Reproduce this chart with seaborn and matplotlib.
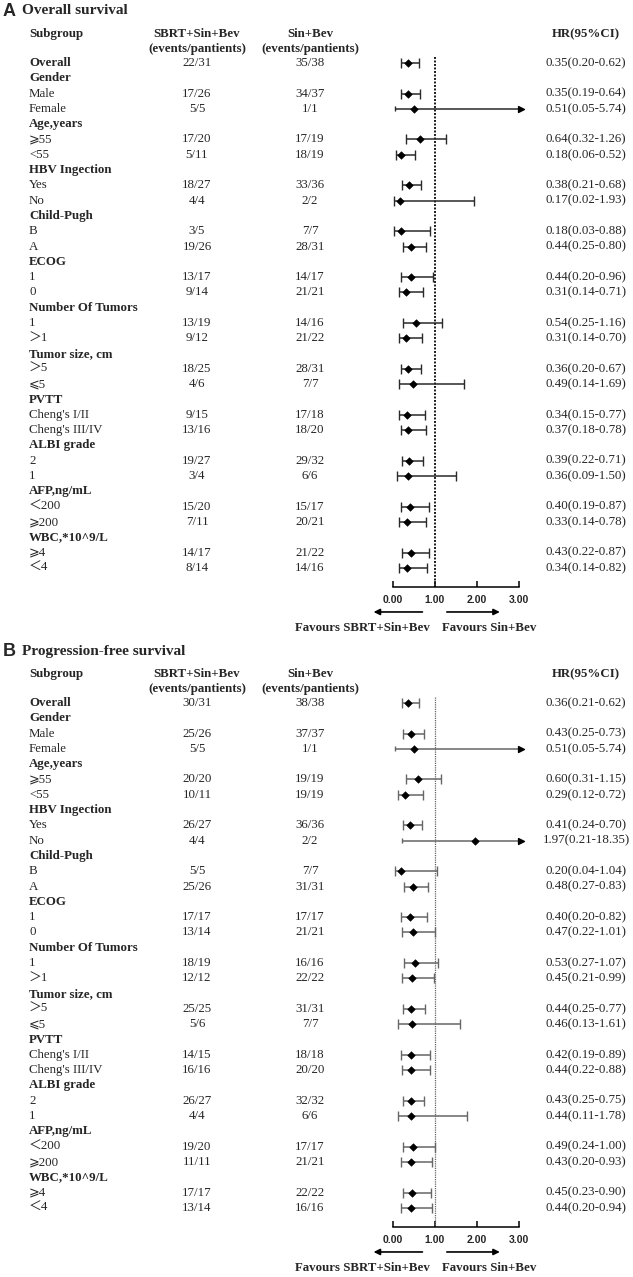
import numpy as np
import pandas as pd
import matplotlib
matplotlib.use("Agg")
import matplotlib.pyplot as plt
import matplotlib.transforms as mtransforms
import seaborn as sns

sns.set_theme(style="white")
SERIF = ["Liberation Serif", "DejaVu Sans", "Noto Sans CJK SC"]
plt.rcParams["font.family"] = SERIF

# ---- rows of the table -------------------------------------------------
row_labels = ["Overall", "Gender", "Male", "Female", "Age,years", "⩾55", "<55",
              "HBV Ingection", "Yes", "No", "Child-Pugh", "B", "A", "ECOG", "1", "0",
              "Number Of Tumors", "1", "＞1", "Tumor size, cm", "＞5", "⩽5", "PVTT",
              "Cheng's I/II", "Cheng's III/IV", "ALBI grade", "2", "1", "AFP,ng/mL",
              "＜200", "⩾200", "WBC,*10^9/L", "⩾4", "＜4"]
bold_rows = [0, 1, 4, 7, 10, 13, 16, 19, 22, 25, 28, 31]

# ---- A: overall survival ----------------------------------------------
os_sbrt = ["22/31", "", "17/26", "5/5", "", "17/20", "5/11", "", "18/27", "4/4", "",
           "3/5", "19/26", "", "13/17", "9/14", "", "13/19", "9/12", "", "18/25", "4/6", "",
           "9/15", "13/16", "", "19/27", "3/4", "", "15/20", "7/11", "", "14/17", "8/14"]
os_sinbev = ["35/38", "", "34/37", "1/1", "", "17/19", "18/19", "", "33/36", "2/2", "",
             "7/7", "28/31", "", "14/17", "21/21", "", "14/16", "21/22", "", "28/31", "7/7", "",
             "17/18", "18/20", "", "29/32", "6/6", "", "15/17", "20/21", "", "21/22", "14/16"]
os_hr = [0.35, None, 0.35, 0.51, None, 0.64, 0.18, None, 0.38, 0.17, None, 0.18, 0.44,
         None, 0.44, 0.31, None, 0.54, 0.31, None, 0.36, 0.49, None, 0.34, 0.37, None,
         0.39, 0.36, None, 0.40, 0.33, None, 0.43, 0.34]
os_lo = [0.20, None, 0.19, 0.05, None, 0.32, 0.06, None, 0.21, 0.02, None, 0.03, 0.25,
         None, 0.20, 0.14, None, 0.25, 0.14, None, 0.20, 0.14, None, 0.15, 0.18, None,
         0.22, 0.09, None, 0.19, 0.14, None, 0.22, 0.14]
os_hi = [0.62, None, 0.64, 5.74, None, 1.26, 0.52, None, 0.68, 1.93, None, 0.88, 0.80,
         None, 0.96, 0.71, None, 1.16, 0.70, None, 0.67, 1.69, None, 0.77, 0.78, None,
         0.71, 1.50, None, 0.87, 0.78, None, 0.87, 0.82]

# ---- B: progression-free survival ------------------------------------
pfs_sbrt = ["30/31", "", "25/26", "5/5", "", "20/20", "10/11", "", "26/27", "4/4", "",
            "5/5", "25/26", "", "17/17", "13/14", "", "18/19", "12/12", "", "25/25", "5/6", "",
            "14/15", "16/16", "", "26/27", "4/4", "", "19/20", "11/11", "", "17/17", "13/14"]
pfs_sinbev = ["38/38", "", "37/37", "1/1", "", "19/19", "19/19", "", "36/36", "2/2", "",
              "7/7", "31/31", "", "17/17", "21/21", "", "16/16", "22/22", "", "31/31", "7/7", "",
              "18/18", "20/20", "", "32/32", "6/6", "", "17/17", "21/21", "", "22/22", "16/16"]
pfs_hr = [0.36, None, 0.43, 0.51, None, 0.60, 0.29, None, 0.41, 1.97, None, 0.20, 0.48,
          None, 0.40, 0.47, None, 0.53, 0.45, None, 0.44, 0.46, None, 0.42, 0.44, None,
          0.43, 0.44, None, 0.49, 0.43, None, 0.45, 0.44]
pfs_lo = [0.21, None, 0.25, 0.05, None, 0.31, 0.12, None, 0.24, 0.21, None, 0.04, 0.27,
          None, 0.20, 0.22, None, 0.27, 0.21, None, 0.25, 0.13, None, 0.19, 0.22, None,
          0.25, 0.11, None, 0.24, 0.20, None, 0.23, 0.20]
pfs_hi = [0.62, None, 0.73, 5.74, None, 1.15, 0.72, None, 0.70, 18.35, None, 1.04, 0.83,
          None, 0.82, 1.01, None, 1.07, 0.99, None, 0.77, 1.61, None, 0.89, 0.88, None,
          0.75, 1.78, None, 1.00, 0.93, None, 0.90, 0.94]

ticks = [0, 1, 2, 3]
XMAX = 3.0

W, H = 633, 1277
fig = plt.figure(figsize=(W / 100, H / 100), dpi=100)

ROW0, STEP = 63, 15.3  # pixel y of first row and row pitch


def draw_panel(letter, title, sbrt, sinbev, hr, lo, hi, off, line_color, dot_color, dot_lw):
    top_px = off + ROW0 - 2 * STEP
    bot_px = off + 587
    ax = fig.add_axes([393 / W, 1 - bot_px / H, (518.5 - 393) / W, (bot_px - top_px) / H])
    ax.set_xlim(0, XMAX)
    ax.set_ylim(34.25, -2)

    df = pd.DataFrame({"row": np.arange(len(row_labels)), "hr": hr, "lo": lo, "hi": hi})
    df = df.dropna().astype(float)
    df["hi_plot"] = df["hi"].clip(upper=XMAX + 0.05)
    cut = df["hi"] > XMAX

    # reference line at HR = 1
    ax.vlines(1, -0.4, 34.25, colors=dot_color, linestyles=(0, (1, 0.8)), lw=dot_lw, zorder=1)

    # confidence intervals
    ok = df[~cut]
    ax.errorbar(ok["hr"], ok["row"], xerr=[ok["hr"] - ok["lo"], ok["hi"] - ok["hr"]],
                fmt="none", ecolor=line_color, elinewidth=1.1, capsize=3.3, capthick=1.0,
                zorder=2, clip_on=False)
    tr = df[cut]
    ax.hlines(tr["row"], tr["lo"], tr["hi_plot"], colors=line_color, lw=1.1, zorder=2, clip_on=False)
    ax.vlines(tr["lo"], tr["row"] - 0.16, tr["row"] + 0.16, colors=line_color, lw=1.0, zorder=2)
    ax.scatter(tr["hi_plot"], tr["row"], marker=">", s=18, color="black", zorder=3, clip_on=False)

    sns.scatterplot(data=df, x="hr", y="row", marker="D", s=15, color="black",
                    edgecolor="black", linewidth=0.4, ax=ax, zorder=4, legend=False, clip_on=False)

    # axis styling
    ax.set_xticks(ticks)
    ax.set_xticklabels([f"{t:.2f}" for t in ticks], fontfamily="Liberation Sans",
                       fontweight="bold", fontsize=7.5)
    ax.set_yticks([])
    ax.set_xlabel("")
    ax.set_ylabel("")
    sns.despine(ax=ax, left=True)
    ax.spines["bottom"].set_color("black")
    ax.spines["bottom"].set_linewidth(1.1)
    ax.tick_params(axis="x", direction="in", length=4, width=1.1, color="black", pad=6,
                   bottom=True)
    ax.patch.set_alpha(0)

    # table text
    trans = mtransforms.blended_transform_factory(fig.transFigure, ax.transData)
    fs = 9.3
    ax.text(29 / W, -1.9, "Subgroup", transform=trans, fontsize=fs, fontweight="bold", va="center")
    for cx, name in [(197 / W, "SBRT+Sin+Bev"), (310 / W, "Sin+Bev")]:
        ax.text(cx, -1.9, name, transform=trans, fontsize=fs, fontweight="bold", ha="center", va="center")
        ax.text(cx, -0.9, "(events/pantients)", transform=trans, fontsize=fs, fontweight="bold",
                ha="center", va="center")
    ax.text(586 / W, -1.9, "HR(95%CI)", transform=trans, fontsize=fs, fontweight="bold",
            ha="center", va="center")

    for i, lab in enumerate(row_labels):
        ax.text(29 / W, i, lab, transform=trans, fontsize=fs, va="center",
                fontweight="bold" if i in bold_rows else "normal")
        if sbrt[i]:
            ax.text(197 / W, i, sbrt[i], transform=trans, fontsize=fs, ha="center", va="center")
            ax.text(310 / W, i, sinbev[i], transform=trans, fontsize=fs, ha="center", va="center")
    for _, r in df.iterrows():
        ax.text(586 / W, r["row"], f"{r['hr']:.2f}({r['lo']:.2f}-{r['hi']:.2f})",
                transform=trans, fontsize=fs, ha="center", va="center")

    # favours arrows
    arrow_y = (612 - ROW0) / STEP
    kw = dict(arrowstyle="-|>", color="black", lw=1.2, mutation_scale=9)
    ax.annotate("", xy=(-0.53, arrow_y), xytext=(0.77, arrow_y), arrowprops=kw,
                annotation_clip=False)
    ax.annotate("", xy=(2.62, arrow_y), xytext=(1.22, arrow_y), arrowprops=kw,
                annotation_clip=False)
    fav_y = (628 - ROW0) / STEP
    ax.text(-0.72, fav_y, "Favours SBRT+Sin+Bev", fontsize=fs, fontweight="bold",
            ha="center", va="center", clip_on=False)
    ax.text(2.30, fav_y, "Favours Sin+Bev", fontsize=fs, fontweight="bold",
            ha="center", va="center", clip_on=False)

    # panel title
    fig.text(3 / W, 1 - (off + 12) / H, letter, fontfamily="Liberation Sans", fontweight="bold",
             fontsize=13, va="center")
    fig.text(22 / W, 1 - (off + 11) / H, title, fontsize=11, fontweight="bold", va="center")


draw_panel("A", "Overall survival", os_sbrt, os_sinbev, os_hr, os_lo, os_hi, 0,
           "#2a2a2a", "#1a1a1a", 1.4)
draw_panel("B", "Progression-free survival", pfs_sbrt, pfs_sinbev, pfs_hr, pfs_lo, pfs_hi, 640,
           "#666666", "#666666", 0.9)

fig.savefig("out.png", dpi=100)
plt.close(fig)
